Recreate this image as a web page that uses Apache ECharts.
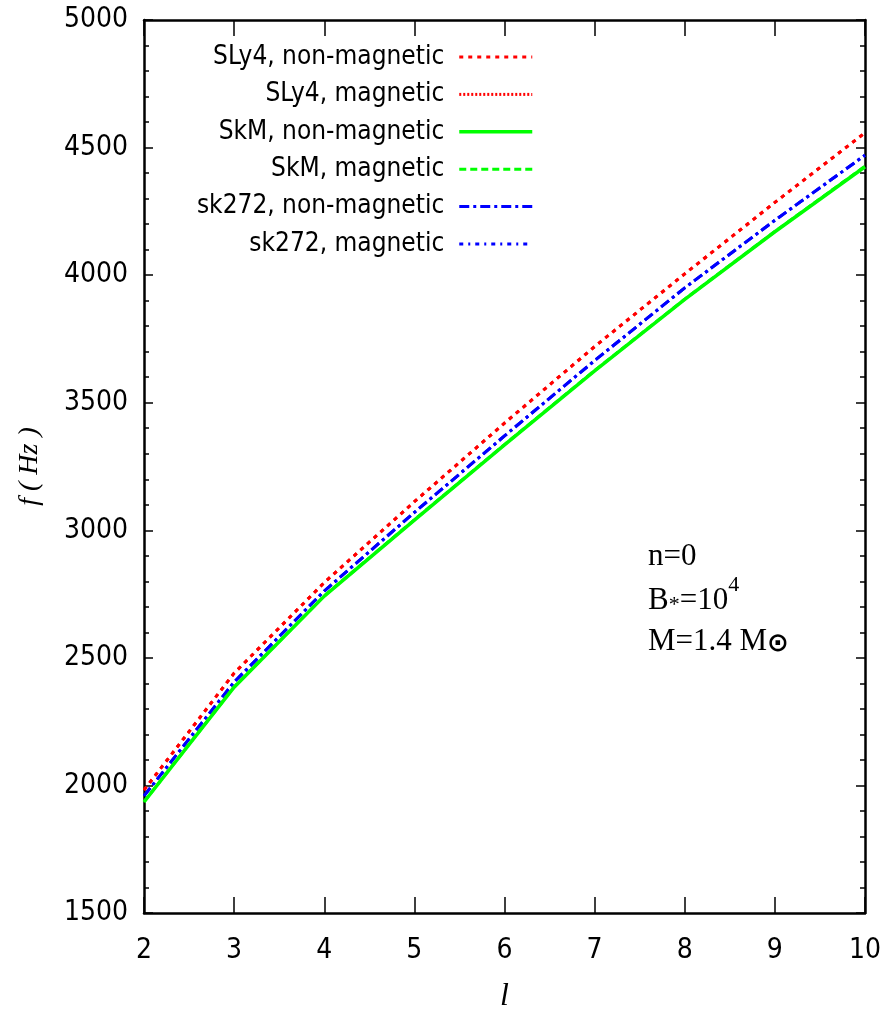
<!DOCTYPE html>
<html>
<head>
<meta charset="utf-8">
<script src="https://cdn.jsdelivr.net/npm/echarts@6/dist/echarts.min.js"></script>
<style>
html,body{margin:0;padding:0;background:#fff;}
#chart{width:889px;height:1025px;}
</style>
</head>
<body>
<div id="chart"></div>
<script>
const lValues = [2, 3, 4, 5, 6, 7, 8, 9, 10];
const sly4NonMag = [1982, 2440, 2795, 3112, 3420, 3720, 4005, 4285, 4558];
const sly4Mag    = [1982, 2440, 2795, 3112, 3420, 3720, 4005, 4285, 4558];
const skmNonMag  = [1935, 2385, 2742, 3040, 3335, 3625, 3905, 4170, 4425];
const skmMag     = [1936, 2386, 2743, 3041, 3336, 3626, 3906, 4171, 4427];
const sk272NonMag = [1959, 2405, 2762, 3070, 3370, 3665, 3950, 4215, 4470];
const sk272Mag    = [1959, 2405, 2762, 3070, 3370, 3665, 3950, 4215, 4470];
const seriesNames = ['SLy4, non-magnetic', 'SLy4, magnetic', 'SkM, non-magnetic', 'SkM, magnetic', 'sk272, non-magnetic', 'sk272, magnetic'];
const xTicks = [2, 3, 4, 5, 6, 7, 8, 9, 10];
const yTicks = [1500, 2000, 2500, 3000, 3500, 4000, 4500, 5000];

const FONT = '"Liberation Sans Narrow", "Arial Narrow", "DejaVu Sans Condensed", sans-serif';
const SERIF = '"Liberation Serif", "DejaVu Serif", serif';

function pairs(vals){ return lValues.map((l,i)=>[l, vals[i]]); }

const RED = '#ff0000', GREEN = '#00ff00', BLUE = '#0000ff';
const plotStyles = [
  {color:RED, type:[4,5], width:3},
  {color:RED, type:[4,5], width:3},
  {color:GREEN, type:'solid', width:3.5},
  {color:GREEN, type:[7,4], width:3},
  {color:BLUE, type:[10,4,3,4], width:3},
  {color:BLUE, type:[10,4,3,4], width:3}
];
const legendStyles = [
  {color:RED, type:[4,5], width:3},
  {color:RED, type:[2,2], width:3},
  {color:GREEN, type:'solid', width:3.5},
  {color:GREEN, type:[7,4], width:3},
  {color:BLUE, type:[10,4,3,4], width:3},
  {color:BLUE, type:[4,5,2,5], width:3}
];
const dataSets = [sly4NonMag, sly4Mag, skmNonMag, skmMag, sk272NonMag, sk272Mag];

const chart = echarts.init(document.getElementById('chart'), null, {renderer:'canvas'});
const axisLine = {show:true, lineStyle:{color:'#000', width:2.5}};
const option = {
  backgroundColor:'#fff',
  animation:false,
  grid:{left:144, right:24, top:20, bottom:112},
  legend:{
    orient:'vertical', align:'right', right:350, top:37,
    itemWidth:73, itemHeight:14, itemGap:7.4,
    itemStyle:{opacity:0},
    data:seriesNames.map((n,i)=>({name:n, itemStyle:{opacity:0}, lineStyle:legendStyles[i]})),
    textStyle:{fontFamily:FONT, fontSize:26, color:'#000', lineHeight:30, padding:[0,10,0,0]}
  },
  xAxis:[
    {type:'value', min:2, max:10, interval:1, position:'bottom',
     axisLine:axisLine,
     axisTick:{show:true, inside:true, length:16, lineStyle:{color:'#000', width:1.5}},
     axisLabel:{fontFamily:FONT, fontSize:28, color:'#000', margin:24, formatter:v=>String(v)},
     splitLine:{show:false},
     name:'l', nameLocation:'middle', nameGap:68,
     nameTextStyle:{fontFamily:SERIF, fontStyle:'italic', fontSize:32, color:'#000'}
    },
    {type:'value', min:2, max:10, interval:1, position:'top',
     axisLine:axisLine,
     axisTick:{show:true, inside:true, length:16, lineStyle:{color:'#000', width:1.5}},
     axisLabel:{show:false}, splitLine:{show:false}}
  ],
  yAxis:[
    {type:'value', min:1500, max:5000, interval:500, position:'left',
     axisLine:axisLine,
     axisTick:{show:true, inside:true, length:9, lineStyle:{color:'#000', width:1.5}},
     minorTick:{show:true, splitNumber:5, length:5, lineStyle:{color:'#000', width:1.5}},
     axisLabel:{fontFamily:FONT, fontSize:28, color:'#000', margin:16, formatter:v=>String(v)},
     splitLine:{show:false},
     name:'f ( Hz )', nameLocation:'middle', nameGap:100, nameRotate:90,
     nameTextStyle:{fontFamily:SERIF, fontStyle:'italic', fontSize:28, color:'#000'}
    },
    {type:'value', min:1500, max:5000, interval:500, position:'right',
     axisLine:axisLine,
     axisTick:{show:true, inside:true, length:9, lineStyle:{color:'#000', width:1.5}},
     minorTick:{show:true, splitNumber:5, length:5, lineStyle:{color:'#000', width:1.5}},
     axisLabel:{show:false}, splitLine:{show:false}}
  ],
  series: seriesNames.map((name,i)=>({
    name:name, type:'line', data:pairs(dataSets[i]),
    symbol:'none', showSymbol:false, smooth:false,
    color:plotStyles[i].color,
    lineStyle:{color:plotStyles[i].color, type:plotStyles[i].type, width:plotStyles[i].width},
    z: 10 - i
  })),
  graphic:[
    {type:'text', left:648, top:541, style:{text:'n=0', font:'31px '+SERIF, fill:'#000'}},
    {type:'text', left:648, top:574, style:{
      text:'{n|B}{sub|*}{n|=10}{sup|4}', fill:'#000',
      rich:{
        n:{fontFamily:SERIF, fontSize:31, color:'#000', verticalAlign:'bottom'},
        sub:{fontFamily:SERIF, fontSize:22, color:'#000', padding:[16,0,0,0], verticalAlign:'bottom'},
        sup:{fontFamily:SERIF, fontSize:22, color:'#000', padding:[0,0,20,0], verticalAlign:'bottom'}
      }}},
    {type:'text', left:648, top:626, style:{
      text:'{n|M=1.4 M}{sub|\u2299}', fill:'#000',
      rich:{
        n:{fontFamily:SERIF, fontSize:31, color:'#000', verticalAlign:'bottom'},
        sub:{fontFamily:'"DejaVu Sans", sans-serif', fontSize:26, fontWeight:'bold', color:'#000', padding:[18,0,0,0], verticalAlign:'bottom'}
      }}}
  ]
};
chart.setOption(option);
</script>
</body>
</html>
